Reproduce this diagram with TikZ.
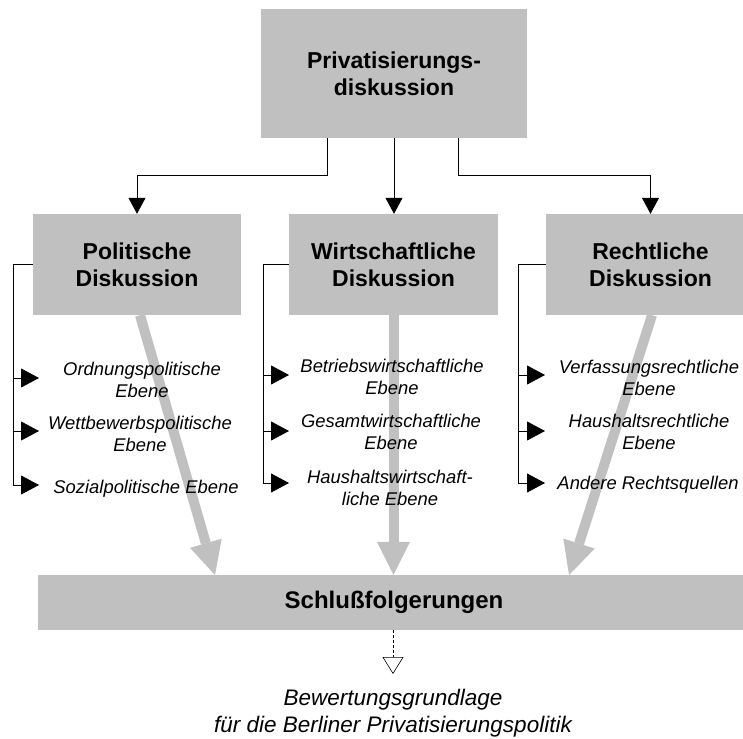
\documentclass[tikz,border=0pt]{standalone}
\usepackage{fontspec}
\setmainfont{Liberation Sans}
\usetikzlibrary{arrows.meta}
\definecolor{boxgray}{RGB}{192,192,192}
\begin{document}
\begin{tikzpicture}[x=1pt,y=-1pt,
  box/.style={fill=boxgray, draw=none, inner sep=0pt, align=center, font=\fontsize{23}{27}\selectfont\bfseries},
  item/.style={align=center, inner sep=0pt, font=\fontsize{18.4}{22}\selectfont\itshape},
  conn/.style={line width=0.8pt, draw=black},
  tip/.style={-{Triangle[width=17pt,length=16pt]}},
  ltip/.style={-{Triangle[width=19pt,length=18pt]}},
  bigarrow/.style={draw=boxgray, line width=10pt, -{Triangle[width=33pt,length=33pt,line width=0pt]}}]
\useasboundingbox (0,0) rectangle (743,738);
\clip (0,0) rectangle (743,738);
% boxes
\node[box, minimum width=266pt, minimum height=129pt] (top) at (394,73.5) {Privatisierungs-\\diskussion};
\node[box, minimum width=208pt, minimum height=101pt] (pol) at (137,264.5) {Politische\\Diskussion};
\node[box, minimum width=209pt, minimum height=101pt] (wir) at (393.5,264.5) {Wirtschaftliche\\Diskussion};
\node[box, minimum width=209pt, minimum height=101pt] (rec) at (650.5,264.5) {Rechtliche\\Diskussion};
\node[box, minimum width=712pt, minimum height=55pt, font=\fontsize{24}{28}\selectfont\bfseries] (sch) at (394,602.5) {Schlußfolgerungen};
% big gray arrows
\coordinate (s1) at (215,575);
\coordinate (s3) at (569,575);
\draw[bigarrow] ([xshift=3pt]pol.south) -- (s1);
\draw[bigarrow] (wir.south) -- (wir.south |- sch.north);
\draw[bigarrow] ([xshift=1.5pt]rec.south) -- (s3);
% top connectors
\draw[conn, tip] ([xshift=-67pt]top.south) -- ++(0,37) -| (pol.north);
\draw[conn, tip] (top.south) -- (top.south |- wir.north);
\draw[conn, tip] ([xshift=64pt]top.south) -- ++(0,37) -| (rec.north);
% list items
\node[item] (p1) at (142,380) {Ordnungspolitische\\Ebene};
\node[item] (p2) at (140,434) {Wettbewerbspolitische\\Ebene};
\node[item] (p3) at (146,489) {Sozialpolitische Ebene};
\node[item] (w1) at (392,377) {Betriebswirtschaftliche\\Ebene};
\node[item] (w2) at (391,432) {Gesamtwirtschaftliche\\Ebene};
\node[item] (w3) at (390,488) {Haushaltswirtschaft-\\liche Ebene};
\node[item] (r1) at (649,378) {Verfassungsrechtliche\\Ebene};
\node[item] (r2) at (649,432) {Haushaltsrechtliche\\Ebene};
\node[item] (r3) at (648,485) {Andere Rechtsquellen};
% list connectors
\coordinate (pa1) at (39,378); \coordinate (pa2) at (39,431); \coordinate (pa3) at (39,485);
\draw[conn, ltip] (pol.west) -| (13,485) -- (pa3);
\draw[conn, ltip] (13,378) -- (pa1);
\draw[conn, ltip] (13,431) -- (pa2);
\coordinate (wa1) at (289,375); \coordinate (wa2) at (289,431); \coordinate (wa3) at (289,483);
\draw[conn, ltip] (wir.west) -| (263,483) -- (wa3);
\draw[conn, ltip] (263,375) -- (wa1);
\draw[conn, ltip] (263,431) -- (wa2);
\coordinate (ra1) at (545,375); \coordinate (ra2) at (545,431); \coordinate (ra3) at (545,483);
\draw[conn, ltip] (rec.west) -| (518,483) -- (ra3);
\draw[conn, ltip] (518,375) -- (ra1);
\draw[conn, ltip] (518,431) -- (ra2);
% result
\coordinate (res) at (393,674);
\draw[line width=0.6pt, dash pattern=on 3pt off 2pt, -{Triangle[open,width=21pt,length=17pt]}] (sch.south -| res) -- (res);
\node[item, font=\fontsize{22.5}{27}\selectfont\itshape] (out) at (393,713.5) {Bewertungsgrundlage\\für die Berliner Privatisierungspolitik};
\end{tikzpicture}
\end{document}
